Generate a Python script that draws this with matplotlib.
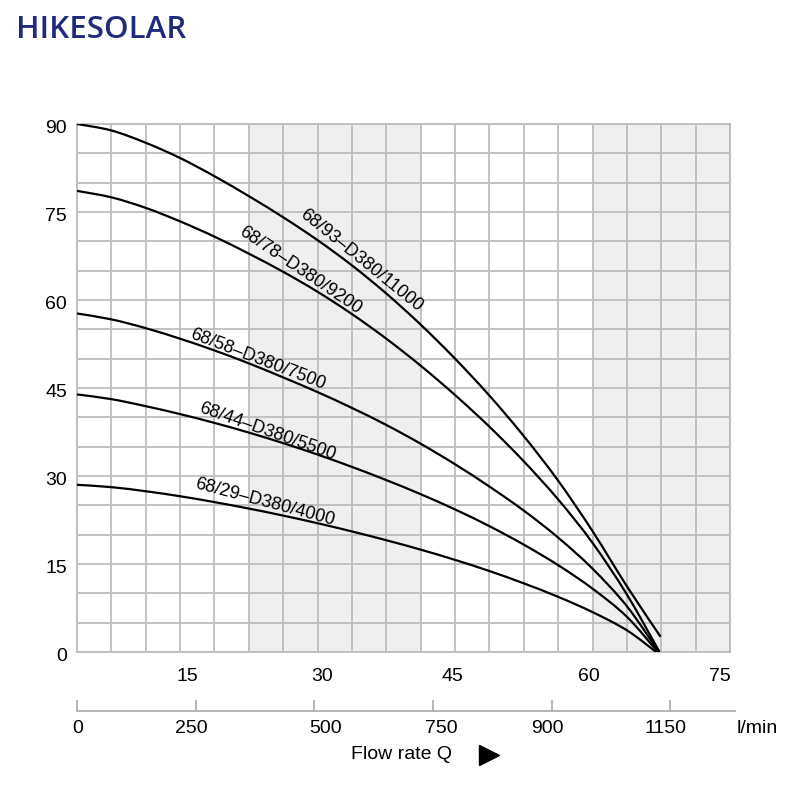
import numpy as np
import matplotlib.pyplot as plt
from matplotlib.path import Path
from matplotlib.patches import PathPatch

plt.rcParams['font.family'] = ['Liberation Sans', 'DejaVu Sans']

# grid columns (x) 0..16, heads in m
cols = list(range(17))
models = ['68/93–D380/11000', '68/78–D380/9200', '68/58–D380/7500',
          '68/44–D380/5500', '68/29–D380/4000']
head_93 = [90.0, 88.9, 86.8, 84.2, 81.1, 77.7, 74.1, 70.2, 65.9, 61.1, 55.8, 50.0, 43.7, 36.8, 29.2, 20.6, 11.2]
head_78 = [78.6, 77.5, 75.7, 73.4, 70.8, 67.9, 64.8, 61.4, 57.6, 53.4, 48.8, 43.8, 38.4, 32.5, 26.0, 18.6, 9.8]
head_58 = [57.7, 56.7, 55.2, 53.4, 51.4, 49.2, 46.8, 44.3, 41.6, 38.7, 35.5, 32.0, 28.2, 24.1, 19.5, 14.2, 7.8]
head_44 = [43.9, 43.1, 41.9, 40.55, 39.05, 37.4, 35.6, 33.65, 31.55, 29.3, 26.9, 24.3, 21.45, 18.3, 14.8, 10.8, 6.0]
head_29 = [28.5, 28.1, 27.4, 26.55, 25.55, 24.45, 23.25, 21.95, 20.55, 19.05, 17.45, 15.7, 13.8, 11.7, 9.4, 6.8, 3.7]
end_col = [16.98, 16.95, 16.93, 16.9, 16.85]
end_head = [2.6, 0.0, 0.0, 0.0, 0.0]
heads = [head_93, head_78, head_58, head_44, head_29]

y_ticks = [0, 15, 30, 45, 60, 75, 90]
top_labels = ['15', '30', '45', '60', '75']
flow_labels = ['0', '250', '500', '750', '900', '1150']

# label placement (col, head, angle)
label_pos = [(8.28, 66.8, -39), (6.49, 65.1, -34), (5.25, 49.8, -21),
             (5.53, 37.5, -19.5), (5.47, 25.5, -15)]


def smooth_path(xs, ys):
    # catmull-rom through the read points, as cubic bezier pieces
    p = np.column_stack([xs, ys])
    n = len(p)
    verts = [p[0]]
    codes = [Path.MOVETO]
    for i in range(n - 1):
        p0 = p[max(i - 1, 0)]
        p1 = p[i]
        p2 = p[i + 1]
        p3 = p[min(i + 2, n - 1)]
        verts += [p1 + (p2 - p0) / 6, p2 - (p3 - p1) / 6, p2]
        codes += [Path.CURVE4] * 3
    return Path(verts, codes)


fig = plt.figure(figsize=(8, 8), dpi=100)
ax = fig.add_axes([77 / 800, 148 / 800, 653 / 800, 528 / 800])
ax.set_xlim(0, 19)
ax.set_ylim(0, 90)

ax.axvspan(5, 10, color='#efefef', zorder=0, lw=0)
ax.axvspan(15, 19, color='#efefef', zorder=0, lw=0)

ax.set_xticks(range(20))
ax.set_yticks(range(0, 91, 5))
ax.tick_params(length=0, labelbottom=False, labelleft=False)
ax.grid(True, color='#bdbdbd', lw=1.3, zorder=1)
ax.set_axisbelow(True)
for s in ax.spines.values():
    s.set_color('#bdbdbd')
    s.set_linewidth(1.3)

for h, ec, eh in zip(heads, end_col, end_head):
    path = smooth_path(cols + [ec], h + [eh])
    ax.add_patch(PathPatch(path, fill=False, edgecolor='black', lw=1.6,
                           zorder=3, capstyle='butt'))

for name, (px, py, ang) in zip(models, label_pos):
    ax.text(px, py, name, rotation=ang, rotation_mode='anchor',
            ha='center', va='center', fontsize=13, zorder=4)

for v in y_ticks:
    ax.text(-0.29, v - 0.75, str(v), ha='right', va='center', fontsize=14,
            clip_on=False)

top_x = [3.2, 7.12, 10.93, 14.9, 18.7]
for t, px in zip(top_labels, top_x):
    ax.text(px, -4.1, t, ha='center', va='center', fontsize=14,
            clip_on=False)

# lower flow axis in l/min
tick_x = [0, 3.46, 6.9, 10.36, 13.82, 17.25]
ax.plot([0, 19.15], [-10.06, -10.06], color='#b0b0b0', lw=1.3, clip_on=False)
for px in tick_x:
    ax.plot([px, px], [-10.06, -8.3], color='#b0b0b0', lw=1.3, clip_on=False)
flow_x = [0.03, 3.34, 7.23, 10.6, 13.68, 17.12]
for t, px in zip(flow_labels, flow_x):
    ax.text(px, -13.0, t, ha='center', va='center', fontsize=14,
            clip_on=False)
ax.text(19.8, -13.0, 'l/min', ha='center', va='center', fontsize=14,
        clip_on=False)
ax.text(9.43, -17.5, 'Flow rate Q', ha='center', va='center', fontsize=14,
        clip_on=False)
ax.plot([11.99], [-17.5], marker='>', color='black', ms=15, clip_on=False)

fig.text(16 / 800, 1 - 30 / 800, 'HIKESOLAR', ha='left', va='center',
         fontsize=22.5, fontweight='semibold', color='#1f2a7c',
         family=['Open Sans', 'DejaVu Sans'])

fig.savefig('out.png', dpi=100)
